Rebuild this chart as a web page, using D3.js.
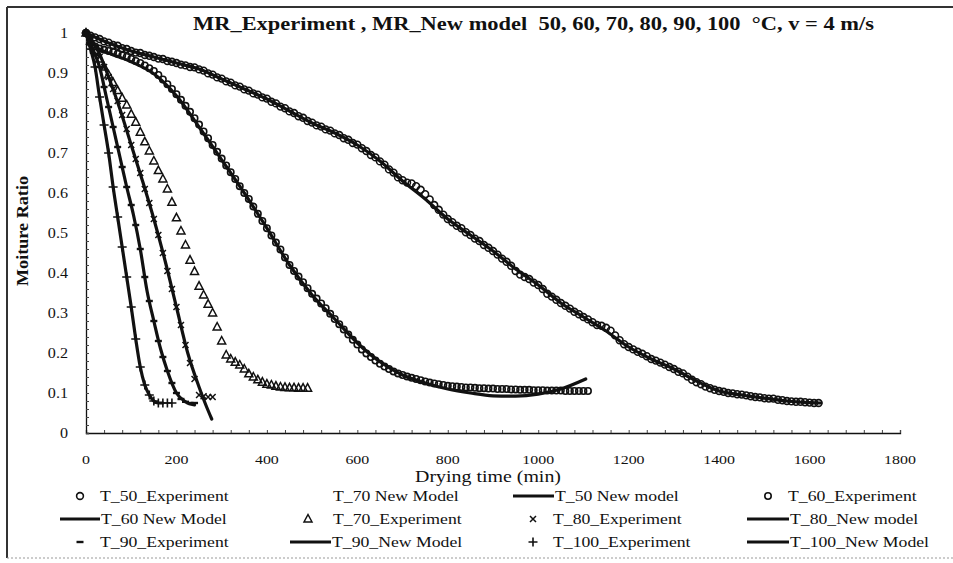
<!DOCTYPE html>
<html>
<head>
<meta charset="utf-8">
<script src="https://cdn.jsdelivr.net/npm/d3@7"></script>
<style>
  body { margin: 0; background: #fff; }
  svg { display: block; }
  text { font-family: "Liberation Serif", "Times New Roman", serif; fill: #111; }
</style>
</head>
<body>
<svg id="chart" width="953" height="563"></svg>
<script>
// ---- axis ticks ----
const xTickValues = [0, 200, 400, 600, 800, 1000, 1200, 1400, 1600, 1800];
const yTickValues = [0, 0.1, 0.2, 0.3, 0.4, 0.5, 0.6, 0.7, 0.8, 0.9, 1];
const yTickLabels = ["0", "0.1", "0.2", "0.3", "0.4", "0.5", "0.6", "0.7", "0.8", "0.9", "1"];

// ---- experimental moisture ratio, one reading every 10 min from t = 0 ----
const sampleStep = 10;
const t50Exp = [
  1.000, 0.993, 0.989, 0.985, 0.979, 0.976, 0.970, 0.968, 0.962, 0.960,
  0.955, 0.951, 0.950, 0.945, 0.943, 0.940, 0.936, 0.935, 0.930, 0.928,
  0.925, 0.921, 0.919, 0.915, 0.914, 0.909, 0.906, 0.899, 0.896, 0.889,
  0.886, 0.879, 0.876, 0.869, 0.866, 0.859, 0.856, 0.849, 0.846, 0.839,
  0.836, 0.828, 0.824, 0.816, 0.812, 0.804, 0.800, 0.792, 0.788, 0.780,
  0.776, 0.769, 0.766, 0.759, 0.756, 0.749, 0.745, 0.737, 0.733, 0.725,
  0.721, 0.712, 0.705, 0.695, 0.689, 0.679, 0.671, 0.659, 0.651, 0.639,
  0.632, 0.626, 0.624, 0.617, 0.608, 0.597, 0.584, 0.570, 0.558, 0.546,
  0.535, 0.527, 0.518, 0.512, 0.502, 0.495, 0.486, 0.480, 0.470, 0.463,
  0.455, 0.446, 0.436, 0.428, 0.418, 0.405, 0.396, 0.390, 0.385, 0.376,
  0.370, 0.360, 0.348, 0.341, 0.333, 0.325, 0.318, 0.311, 0.303, 0.297,
  0.290, 0.284, 0.277, 0.270, 0.268, 0.263, 0.256, 0.244, 0.232, 0.222,
  0.215, 0.209, 0.203, 0.198, 0.192, 0.185, 0.181, 0.176, 0.171, 0.165,
  0.160, 0.153, 0.149, 0.141, 0.133, 0.127, 0.122, 0.116, 0.112, 0.108,
  0.105, 0.103, 0.100, 0.099, 0.097, 0.096, 0.094, 0.092, 0.090, 0.089,
  0.087, 0.086, 0.086, 0.083, 0.082, 0.080, 0.079, 0.078, 0.078, 0.077,
  0.076, 0.075, 0.075
];
const t60Exp = [
  1.000, 0.975, 0.966, 0.961, 0.958, 0.955, 0.952, 0.948, 0.944, 0.940,
  0.935, 0.930, 0.925, 0.919, 0.912, 0.905, 0.895, 0.884, 0.872, 0.860,
  0.847, 0.833, 0.818, 0.803, 0.787, 0.771, 0.754, 0.737, 0.720, 0.703,
  0.686, 0.669, 0.652, 0.635, 0.617, 0.600, 0.585, 0.566, 0.548, 0.530,
  0.512, 0.494, 0.476, 0.459, 0.439, 0.420, 0.405, 0.391, 0.377, 0.362,
  0.348, 0.336, 0.324, 0.312, 0.298, 0.285, 0.272, 0.259, 0.246, 0.233,
  0.221, 0.209, 0.199, 0.190, 0.181, 0.173, 0.166, 0.160, 0.154, 0.149,
  0.145, 0.141, 0.138, 0.135, 0.132, 0.129, 0.126, 0.124, 0.122, 0.120,
  0.118, 0.117, 0.116, 0.115, 0.114, 0.114, 0.113, 0.112, 0.112, 0.111,
  0.111, 0.110, 0.110, 0.110, 0.109, 0.109, 0.108, 0.108, 0.108, 0.107,
  0.107, 0.107, 0.106, 0.106, 0.106, 0.106, 0.105, 0.105, 0.105, 0.105,
  0.105, 0.105
];
const t70Exp = [
  1.000, 0.980, 0.957, 0.935, 0.915, 0.895, 0.876, 0.856, 0.837, 0.820,
  0.797, 0.777, 0.752, 0.728, 0.705, 0.680, 0.656, 0.635, 0.610, 0.577,
  0.538, 0.505, 0.470, 0.432, 0.404, 0.367, 0.345, 0.322, 0.300, 0.265,
  0.230, 0.195, 0.185, 0.177, 0.170, 0.160, 0.148, 0.140, 0.133, 0.127,
  0.122, 0.120, 0.117, 0.115, 0.114, 0.113, 0.113, 0.112, 0.112, 0.112
];
const t80Exp = [
  1.000, 0.985, 0.965, 0.940, 0.915, 0.890, 0.860, 0.830, 0.795, 0.760,
  0.720, 0.685, 0.650, 0.610, 0.575, 0.535, 0.495, 0.450, 0.405, 0.360,
  0.315, 0.270, 0.220, 0.175, 0.135, 0.095, 0.092, 0.090, 0.090
];
const t90Exp = [
  1.000, 0.975, 0.945, 0.915, 0.865, 0.815, 0.765, 0.715, 0.665, 0.615,
  0.570, 0.520, 0.460, 0.390, 0.330, 0.280, 0.230, 0.190, 0.155, 0.125,
  0.100, 0.085, 0.078, 0.075, 0.075
];
const t100Exp = [
  1.000, 0.960, 0.915, 0.840, 0.770, 0.700, 0.615, 0.540, 0.465, 0.390,
  0.315, 0.235, 0.165, 0.120, 0.095, 0.080, 0.075, 0.075, 0.075, 0.075
];

// ---- new model curves: knot times (min) and predicted moisture ratio ----
const t50ModelTime = [0, 50, 100, 150, 200, 250, 300, 350, 400, 450, 500, 550, 600, 650, 700, 750, 800, 850, 900, 950, 1000, 1050, 1100, 1150, 1200, 1250, 1300, 1350, 1400, 1450, 1500, 1550, 1600, 1625];
const t50ModelMR   = [1.000, 0.975, 0.955, 0.940, 0.925, 0.910, 0.885, 0.860, 0.835, 0.805, 0.775, 0.750, 0.720, 0.680, 0.630, 0.585, 0.535, 0.495, 0.455, 0.410, 0.370, 0.325, 0.290, 0.255, 0.215, 0.185, 0.160, 0.130, 0.105, 0.095, 0.087, 0.080, 0.076, 0.075];
const t60ModelTime = [0, 25, 50, 100, 150, 200, 250, 300, 350, 400, 450, 500, 550, 600, 650, 700, 750, 800, 850, 900, 950, 1000, 1050, 1105];
const t60ModelMR   = [1.000, 0.963, 0.950, 0.928, 0.898, 0.843, 0.765, 0.683, 0.600, 0.512, 0.420, 0.345, 0.285, 0.225, 0.178, 0.145, 0.125, 0.110, 0.100, 0.093, 0.092, 0.097, 0.110, 0.135];
const t80ModelTime = [0, 25, 50, 75, 100, 125, 150, 175, 200, 225, 250, 265, 278];
const t80ModelMR   = [1.000, 0.960, 0.890, 0.810, 0.720, 0.630, 0.535, 0.430, 0.315, 0.200, 0.115, 0.070, 0.035];
const t90ModelTime = [0, 15, 30, 45, 60, 75, 90, 105, 120, 135, 150, 165, 180, 200, 220, 240];
const t90ModelMR   = [1.000, 0.960, 0.915, 0.840, 0.765, 0.690, 0.615, 0.545, 0.460, 0.355, 0.280, 0.210, 0.155, 0.100, 0.078, 0.070];
const t100ModelTime = [0, 10, 20, 30, 40, 50, 60, 70, 80, 90, 100, 110, 120, 130, 140, 150, 160, 170];
const t100ModelMR   = [1.000, 0.960, 0.915, 0.840, 0.770, 0.700, 0.615, 0.540, 0.465, 0.390, 0.315, 0.235, 0.165, 0.120, 0.095, 0.080, 0.075, 0.075];

// ---- legend entries, in reading order ----
const legendLabels = [
  "T_50_Experiment", "T_70 New Model", "T_50 New model", "T_60_Experiment",
  "T_60 New Model", "T_70_Experiment", "T_80_Experiment", "T_80_New model",
  "T_90_Experiment", "T_90_New Model", "T_100_Experiment", "T_100_New Model"
];
const legendKinds = [
  "circle", "none", "line", "smallcircle",
  "line", "triangle", "cross", "line",
  "dash", "line", "plus", "line"
];

// ---------------------------------------------------------------
const svg = d3.select("#chart");
const ink = "#111";
const serif = "'Liberation Serif', 'Times New Roman', serif";
const x = d3.scaleLinear().domain([0, 1800]).range([86, 900]);
const y = d3.scaleLinear().domain([0, 1]).range([433, 33]);

function label(sel, px, py, s, o = {}) {
  return sel.append("text")
    .attr("transform", `translate(${px},${py}) scale(${o.sx ?? 1.15},1)`)
    .attr("text-anchor", o.anchor || "start")
    .attr("font-family", serif)
    .attr("font-size", o.size || 15)
    .attr("font-weight", o.weight || "normal")
    .text(s);
}

// outer frame of the figure
svg.append("line").attr("x1", 7).attr("y1", 7).attr("x2", 953).attr("y2", 7)
  .attr("stroke", "#333").attr("stroke-width", 2);
svg.append("line").attr("x1", 7).attr("y1", 7).attr("x2", 7).attr("y2", 558)
  .attr("stroke", "#333").attr("stroke-width", 2);
svg.append("line").attr("x1", 7).attr("y1", 558).attr("x2", 953).attr("y2", 558)
  .attr("stroke", "#999").attr("stroke-width", 1.2).attr("stroke-dasharray", "2,2");

// axes: domain lines plus small inward tick marks
const xAxis = d3.axisBottom(x).tickValues(d3.range(0, 1801, 40)).tickSize(-3).tickFormat("");
const yAxis = d3.axisLeft(y).tickValues(d3.range(0, 1.0001, 0.02)).tickSize(-3).tickFormat("");
svg.append("g").attr("transform", `translate(0,${y(0)})`).call(xAxis)
  .call(g => g.select(".domain").attr("stroke", ink).attr("stroke-width", 1.3))
  .call(g => g.selectAll(".tick line").attr("stroke", "#444"));
svg.append("g").attr("transform", `translate(${x(0)},0)`).call(yAxis)
  .call(g => g.select(".domain").attr("stroke", ink).attr("stroke-width", 1.3))
  .call(g => g.selectAll(".tick line").attr("stroke", "#444"));

// tick labels
xTickValues.forEach(v => label(svg, x(v), 464, String(v), { anchor: "middle", size: 13.5, sx: 1.18 }));
yTickValues.forEach((v, i) => label(svg, 68, y(v) + 5, yTickLabels[i], { anchor: "end", size: 14, sx: 1.15 }));

// titles
svg.append("text")
  .attr("x", 193).attr("y", 30)
  .attr("font-family", serif)
  .attr("font-size", 18).attr("font-weight", "bold")
  .attr("textLength", 681).attr("lengthAdjust", "spacingAndGlyphs")
  .style("white-space", "pre")
  .text("MR_Experiment , MR_New model  50, 60, 70, 80, 90, 100  \u00B0C, v = 4 m/s");
svg.append("text")
  .attr("transform", "translate(28,231) rotate(-90)")
  .attr("text-anchor", "middle")
  .attr("font-family", serif)
  .attr("font-size", 16).attr("font-weight", "bold")
  .attr("textLength", 110).attr("lengthAdjust", "spacingAndGlyphs")
  .text("Moiture Ratio");
svg.append("text")
  .attr("x", 415).attr("y", 482)
  .attr("font-family", serif)
  .attr("font-size", 17)
  .attr("textLength", 146).attr("lengthAdjust", "spacingAndGlyphs")
  .text("Drying time (min)");

// ---- marker shapes ----
function drawMarker(g, kind, cx, cy) {
  const s = g.append("g").attr("transform", `translate(${cx},${cy})`)
    .attr("fill", "none").attr("stroke", ink);
  if (kind === "circle") s.append("circle").attr("r", 3.4).attr("stroke-width", 1.6);
  else if (kind === "smallcircle") s.append("circle").attr("r", 3.2).attr("stroke-width", 1.6);
  else if (kind === "triangle") s.append("path").attr("d", "M0,-4.5L4,3L-4,3Z").attr("stroke-width", 1.5);
  else if (kind === "cross") s.append("path").attr("d", "M-3,-3L3,3M-3,3L3,-3").attr("stroke-width", 1.5);
  else if (kind === "plus") s.append("path").attr("d", "M-4.5,0H4.5M0,-4.5V4.5").attr("stroke-width", 1.6);
  else if (kind === "dash") s.append("path").attr("d", "M-3.5,0H3.5").attr("stroke-width", 2.4);
}

const experiments = [
  { values: t50Exp, kind: "circle" },
  { values: t60Exp, kind: "smallcircle" },
  { values: t70Exp, kind: "triangle" },
  { values: t80Exp, kind: "cross" },
  { values: t90Exp, kind: "dash" },
  { values: t100Exp, kind: "plus" }
];
const markers = svg.append("g");
experiments.forEach(ser => {
  ser.values.forEach((v, i) => drawMarker(markers, ser.kind, x(i * sampleStep), y(v)));
});

// ---- model curves ----
const models = [
  [t50ModelTime, t50ModelMR],
  [t60ModelTime, t60ModelMR],
  [t80ModelTime, t80ModelMR],
  [t90ModelTime, t90ModelMR],
  [t100ModelTime, t100ModelMR]
];
const lineGen = d3.line().x(d => x(d[0])).y(d => y(d[1])).curve(d3.curveMonotoneX);
models.forEach(([ts, vs]) => {
  svg.append("path")
    .attr("d", lineGen(ts.map((t, i) => [t, vs[i]])))
    .attr("fill", "none").attr("stroke", ink).attr("stroke-width", 3.2)
    .attr("stroke-linejoin", "round").attr("stroke-linecap", "round");
});

// ---- legend ----
const colText = [100, 333, 553, 788];
const colSym = [80, 308, 533, 768];
const colLine = [[60, 100], [290, 331], [513, 554], [747, 789]];
const rowY = [496, 519, 542];
const legend = svg.append("g");
legendLabels.forEach((name, i) => {
  const c = i % 4, r = Math.floor(i / 4);
  const kind = legendKinds[i];
  if (kind === "line") {
    legend.append("line")
      .attr("x1", colLine[c][0]).attr("x2", colLine[c][1])
      .attr("y1", rowY[r]).attr("y2", rowY[r])
      .attr("stroke", ink).attr("stroke-width", 3);
  } else if (kind !== "none") {
    drawMarker(legend, kind, colSym[c], rowY[r]);
  }
  const tx = kind === "line" ? colLine[c][1] + 1 : colText[c];
  label(legend, tx, rowY[r] + 5, name, { size: 15, sx: 1.18 });
});
</script>
</body>
</html>
